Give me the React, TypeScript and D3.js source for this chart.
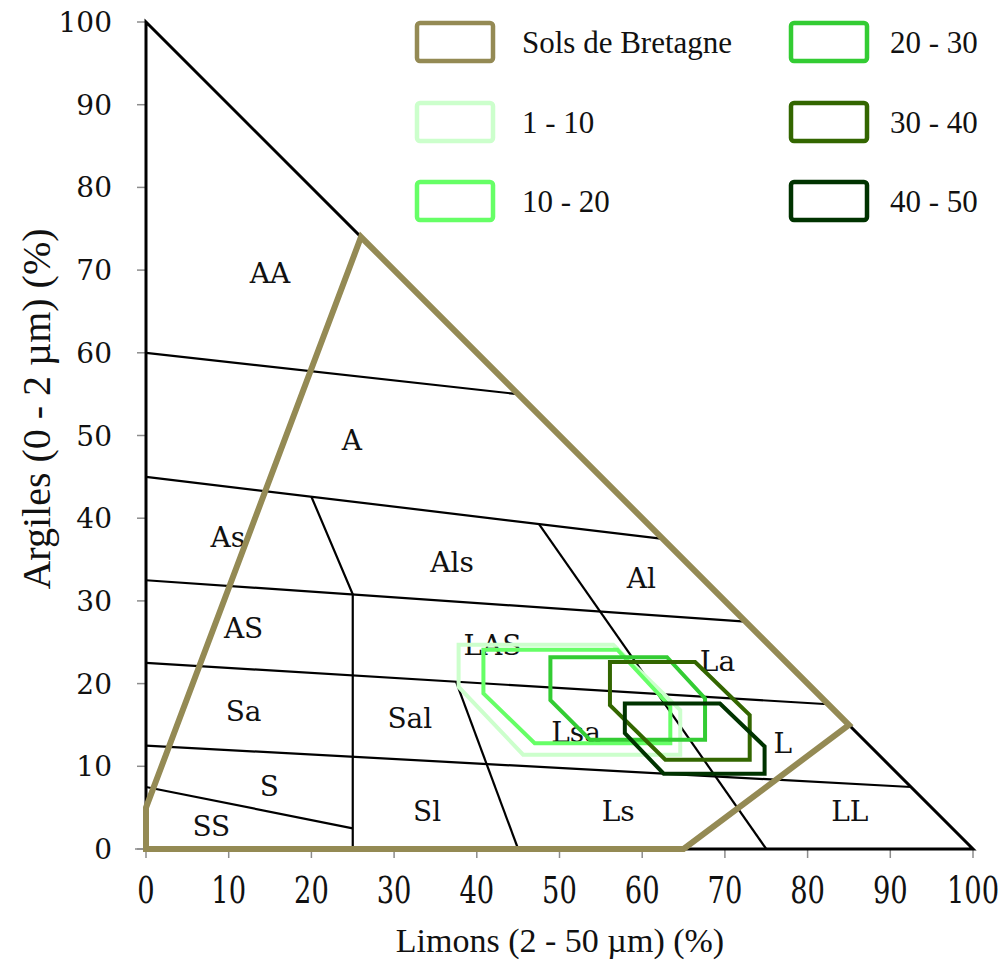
import React from "react";
import * as d3 from "d3";

// texture triangle (Limons on x, Argiles on y), all values in %
const outline: [number, number][] = [[0, 100], [100, 0], [0, 0]];

const classLines: [number, number][][] = [
  [[0, 60], [45, 55]],
  [[0, 45], [62.5, 37.5]],
  [[0, 32.5], [72.5, 27.5]],
  [[0, 22.5], [82.5, 17.5]],
  [[0, 12.5], [92.5, 7.5]],
  [[0, 7.5], [25, 2.5]],
  [[20, 42.6], [25, 30.8], [25, 0]],
  [[37.5, 20.2], [45, 0]],
  [[47.5, 39.3], [75, 0]],
];

const classNames = ["AA", "A", "As", "Als", "Al", "AS", "LAS", "La", "Sa", "Sal", "Lsa", "L", "S", "Sl", "Ls", "SS", "LL"];
const classX = [15.0, 24.9, 9.9, 37.0, 59.9, 11.8, 41.9, 69.1, 11.8, 31.9, 52.0, 77.0, 14.9, 34.0, 57.1, 7.9, 85.1];
const classY = [69.7, 49.5, 37.7, 34.7, 32.8, 26.7, 24.7, 22.7, 16.7, 15.8, 14.1, 12.8, 7.6, 4.6, 4.6, 2.8, 4.6];

const bretagne: [number, number][] = [[0, 5], [26, 74], [85, 15], [65, 0], [0, 0]];

const depthNames = ["1 - 10", "10 - 20", "20 - 30", "30 - 40", "40 - 50"];
const depthColors = ["#ccffcc", "#66ff66", "#33cc33", "#336600", "#003300"];
const depthZones: [number, number][][] = [
  [[37.8, 24.7], [56.5, 24.7], [64.6, 16.8], [64.6, 11.4], [45.6, 11.4], [37.8, 19.6]],
  [[40.8, 24.1], [57.0, 24.1], [63.4, 17.2], [63.4, 12.8], [47.0, 12.8], [40.8, 18.8]],
  [[48.9, 23.2], [63.0, 23.2], [67.6, 18.2], [67.6, 13.2], [53.7, 13.2], [48.9, 18.0]],
  [[56.1, 22.6], [66.4, 22.6], [73.0, 16.2], [73.0, 10.8], [62.8, 10.8], [56.1, 17.4]],
  [[57.9, 17.6], [69.4, 17.6], [74.8, 12.4], [74.8, 9.1], [62.6, 9.1], [57.9, 14.0]],
];

const ticks = [0, 10, 20, 30, 40, 50, 60, 70, 80, 90, 100];

const tan = "#948a54";

export default function App() {
  const x = d3.scaleLinear().domain([0, 100]).range([146, 973]);
  const y = d3.scaleLinear().domain([0, 100]).range([849, 22]);
  const line = d3.line<[number, number]>().x(d => x(d[0])).y(d => y(d[1]));
  const closed = (pts: [number, number][]) => line(pts) + "Z";

  const legend = [
    { name: "Sols de Bretagne", color: tan },
    ...depthNames.map((n, i) => ({ name: n, color: depthColors[i] })),
  ];

  return (
    <svg width={1006} height={965} style={{ position: "absolute", left: 0, top: 0, background: "#fff" }}>
      {/* axis ticks */}
      <g stroke="#8c8c8c" strokeWidth={1.5}>
        <line x1={135} x2={973} y1={y(0)} y2={y(0)} />
        {ticks.map(t => (
          <line key={"yt" + t} x1={137} x2={x(0)} y1={y(t)} y2={y(t)} />
        ))}
        {ticks.map(t => (
          <line key={"xt" + t} x1={x(t)} x2={x(t)} y1={y(0)} y2={y(0) + 9} />
        ))}
      </g>
      <g fontFamily="DejaVu Serif" fontSize={28} fill="#111">
        {ticks.map(t => (
          <text key={"yl" + t} x={112} y={y(t) + 10} textAnchor="end">{t}</text>
        ))}
      </g>
      <g fontFamily="DejaVu Serif" fontSize={38} fill="#111">
        {ticks.map(t => (
          <text key={"xl" + t} transform={`translate(${x(t)},903) scale(0.72,1)`} textAnchor="middle">{t}</text>
        ))}
      </g>

      {/* class boundaries */}
      <g fill="none" stroke="#000">
        {classLines.map((l, i) => (
          <path key={i} d={line(l) || ""} strokeWidth={2.2} />
        ))}
        <path d={closed(outline)} strokeWidth={3} strokeLinejoin="miter" />
      </g>

      <g fontFamily="DejaVu Serif" fontSize={28} fill="#111" textAnchor="middle">
        {classNames.map((n, i) => (
          <text key={n} x={x(classX[i])} y={y(classY[i]) + 10}>{n}</text>
        ))}
      </g>

      <path d={closed(bretagne)} fill="none" stroke={tan} strokeWidth={6} strokeLinejoin="miter" />

      <g fill="none" strokeWidth={4}>
        {depthZones.map((z, i) => (
          <path key={i} d={closed(z)} stroke={depthColors[i]} />
        ))}
      </g>

      {/* legend */}
      <g fontFamily="Liberation Serif" fontSize={31} fill="#111">
        {legend.map((d, i) => {
          const col = Math.floor(i / 3);
          const row = i % 3;
          const lx = col === 0 ? 417 : 791;
          const tx = col === 0 ? 522 : 890;
          const cy = [42, 122, 201][row];
          return (
            <g key={d.name}>
              <rect x={lx} y={cy - 19} width={76} height={38} rx={3} fill="none" stroke={d.color} strokeWidth={4.5} />
              <text x={tx} y={cy + 11}>{d.name}</text>
            </g>
          );
        })}
      </g>

      <text transform="translate(50,409) rotate(-90)" textAnchor="middle" fontFamily="Liberation Serif" fontSize={40} fill="#111">
        Argiles (0 - 2 µm) (%)
      </text>
      <text x={560} y={952} textAnchor="middle" fontFamily="Liberation Serif" fontSize={34} fill="#111">
        Limons (2 - 50 µm) (%)
      </text>
    </svg>
  );
}
